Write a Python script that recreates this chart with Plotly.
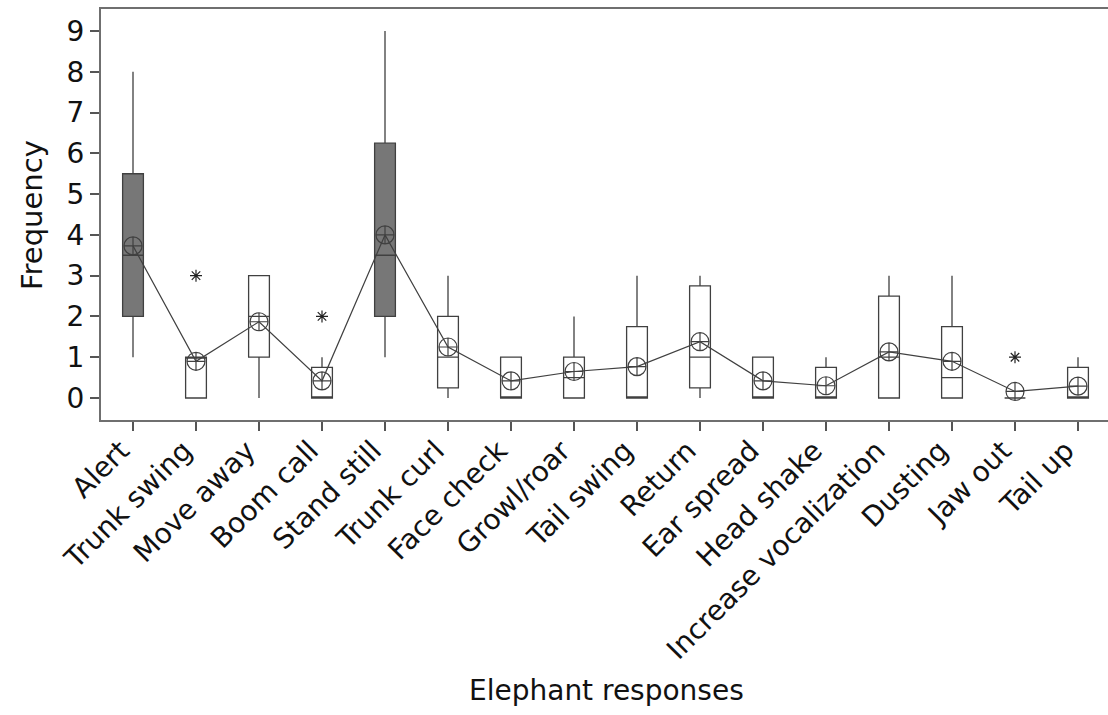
import plotly.graph_objects as go

categories = ["Alert", "Trunk swing", "Move away", "Boom call", "Stand still", "Trunk curl",
              "Face check", "Growl/roar", "Tail swing", "Return", "Ear spread", "Head shake",
              "Increase vocalization", "Dusting", "Jaw out", "Tail up"]
lower = [1, 0, 0, 0, 1, 0, 0, 0, 0, 0, 0, 0, 0, 0, 0, 0]
q1 = [2, 0, 1, 0, 2, 0.25, 0, 0, 0, 0.25, 0, 0, 0, 0, 0, 0]
median = [3.5, 1, 2, 0, 3.5, 1, 0, 0.5, 0, 1, 0, 0, 1, 0.5, 0, 0]
q3 = [5.5, 1, 3, 0.75, 6.25, 2, 1, 1, 1.75, 2.75, 1, 0.75, 2.5, 1.75, 0, 0.75]
upper = [8, 1, 3, 1, 9, 3, 1, 2, 3, 3, 1, 1, 3, 3, 0, 1]
means = [3.73, 0.9, 1.87, 0.42, 4.0, 1.25, 0.42, 0.65, 0.77, 1.38, 0.42, 0.3, 1.13, 0.9, 0.16, 0.29]
shaded = ["Alert", "Stand still"]
outlier_cats = ["Trunk swing", "Boom call", "Jaw out"]
outlier_vals = [3, 2, 1]
y_ticks = [0, 1, 2, 3, 4, 5, 6, 7, 8, 9]

FONT = "DejaVu Sans"
LINE = "#404040"

W = 1114
PW = W - 101

fig = go.Figure()
for i, c in enumerate(categories):
    fill = "#777777" if c in shaded else "white"
    fig.add_trace(go.Box(
        x=[c], q1=[q1[i]], median=[median[i]], q3=[q3[i]],
        lowerfence=[lower[i]], upperfence=[upper[i]],
        fillcolor=fill, line=dict(color=LINE, width=1.3),
        width=0.33, whiskerwidth=0, boxpoints=False, showlegend=False,
        hoverinfo="skip",
    ))

fig.add_trace(go.Scatter(
    x=categories, y=means, mode="lines+markers",
    line=dict(color=LINE, width=1.2),
    marker=dict(symbol="circle-cross-open", size=18, color=LINE, line=dict(width=1.2)),
    showlegend=False,
))
fig.add_trace(go.Scatter(
    x=outlier_cats, y=outlier_vals, mode="markers",
    marker=dict(symbol="asterisk-open", size=10, color="#222", line=dict(width=1.2, color="#222")),
    showlegend=False,
))

fig.update_layout(
    width=W, height=715,
    margin=dict(l=101, r=0, t=9, b=295),
    paper_bgcolor="white", plot_bgcolor="white",
    boxmode="overlay",
    font=dict(family=FONT, color="#111"),
    xaxis=dict(
        type="category", categoryorder="array", categoryarray=categories,
        range=[-0.508, -0.508 + PW / 63.0],
        showline=True, linecolor="#6f6f6f", linewidth=2, mirror=True,
        ticks="outside", ticklen=9, tickcolor="#555", tickwidth=1.5,
        tickangle=-45, tickfont=dict(size=28, family=FONT, color="#111"),
        ticklabelshift=-12, ticklabelstandoff=-8,
        showgrid=False, zeroline=False,
    ),
    yaxis=dict(
        range=[-0.54, 9.54],
        tickvals=y_ticks,
        showline=True, linecolor="#6f6f6f", linewidth=2, mirror=False,
        ticks="outside", ticklen=9, tickcolor="#555", tickwidth=1.5,
        tickfont=dict(size=28, family=FONT, color="#111"),
        showgrid=False, zeroline=False,
    ),
    annotations=[
        dict(text="Frequency", xref="paper", yref="paper", x=(32-101)/PW, y=(420-215)/411,
             textangle=-90, showarrow=False, xanchor="center", yanchor="middle",
             font=dict(size=29, family=FONT, color="#111")),
        dict(text="Elephant responses", xref="paper", yref="paper", x=(606-101)/PW, y=-(690-420)/411,
             showarrow=False, xanchor="center", yanchor="middle",
             font=dict(size=28, family=FONT, color="#111")),
    ],
)

fig.write_html("out.html", config={"displayModeBar": False},
               post_script="document.body.style.margin='0';document.body.style.overflow='hidden';"
                           "document.documentElement.style.overflow='hidden';")
